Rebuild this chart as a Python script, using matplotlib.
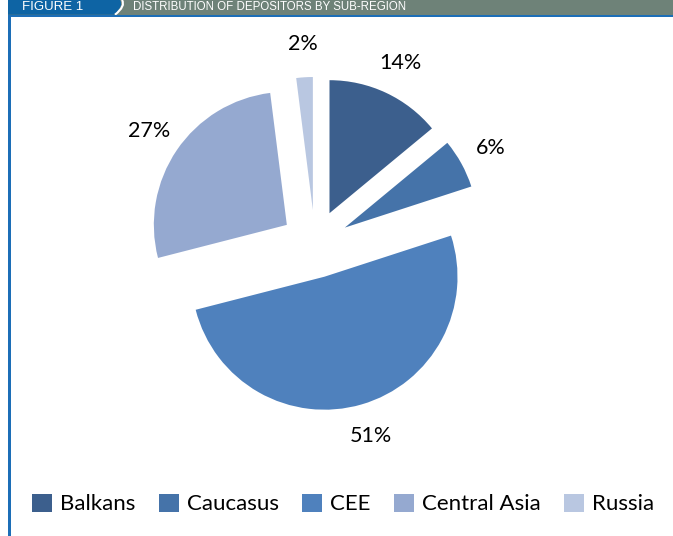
import matplotlib
matplotlib.use("Agg")
import matplotlib.pyplot as plt
from matplotlib.patches import Rectangle, PathPatch
from matplotlib.path import Path

categories = ["Balkans", "Caucasus", "CEE", "Central Asia", "Russia"]
shares = [14, 6, 51, 27, 2]
colors = ["#3C5F8D", "#4573A9", "#4F81BD", "#95A9D0", "#B9C7E1"]
title_tab = "FIGURE 1"
title_text = "DISTRIBUTION OF DEPOSITORS BY SUB-REGION"

W, H = 673, 536
fig = plt.figure(figsize=(W / 100, H / 100), dpi=100)
fig.patch.set_facecolor("white")

# pie axes in units of the pie radius
R = 133.0
cx, cy = 315.0, 244.0
ax = fig.add_axes([0, 0, 1, 1])
wedges, texts, autotexts = ax.pie(
    shares, colors=colors, startangle=90, counterclock=False,
    explode=[0.256] * len(shares), radius=1.0,
    autopct=lambda p: f"{p:.0f}%", pctdistance=1.25,
    wedgeprops=dict(linewidth=0), textprops=dict(family="Lato", fontsize=15.5, color="black"),
)
ax.set_xlim(-cx / R, (W - cx) / R)
ax.set_ylim((cy - H) / R, cy / R)
ax.set_aspect("equal")
ax.axis("off")

# overlay axes in pixel coordinates for header and border
ov = fig.add_axes([0, 0, 1, 1], facecolor="none")
ov.set_xlim(0, W)
ov.set_ylim(H, 0)
ov.axis("off")
ov.add_patch(Rectangle((8, 0), W - 8, 14.7, facecolor="#6E8278", edgecolor="none"))
tab = Path([(8, 0), (120, 0), (124, 6), (114, 14.7), (8, 14.7), (8, 0)],
           [Path.MOVETO, Path.LINETO, Path.CURVE3, Path.CURVE3, Path.LINETO, Path.CLOSEPOLY])
ov.add_patch(PathPatch(tab, facecolor="#0E64A4", edgecolor="none"))
arc = Path([(122, 0), (126, 6), (115, 14.7)], [Path.MOVETO, Path.CURVE3, Path.CURVE3])
ov.add_patch(PathPatch(arc, facecolor="none", edgecolor="white", linewidth=1.5))
ov.add_patch(Rectangle((8, 14.7), W - 8, 2.3, facecolor="#1C6EB7", edgecolor="none"))
ov.add_patch(Rectangle((8, 14.7), 2.5, H - 14.7, facecolor="#1C6EB7", edgecolor="none"))
ov.text(22, 10.5, title_tab, color="white", fontsize=9.5, family="Liberation Sans",
        ha="left", va="baseline")
ov.text(133, 10, title_text, color="white", fontsize=8.3, family="Liberation Sans",
        ha="left", va="baseline")

leg = fig.legend(wedges, categories, loc="center", ncol=5,
                 bbox_to_anchor=(343 / W, 1 - 504 / H), frameon=False,
                 prop=dict(family="Lato", size=16), handlelength=0.9, handleheight=0.9,
                 handletextpad=0.36, columnspacing=1.05, borderaxespad=0)

fig.savefig("out.png", dpi=100, facecolor="white")
